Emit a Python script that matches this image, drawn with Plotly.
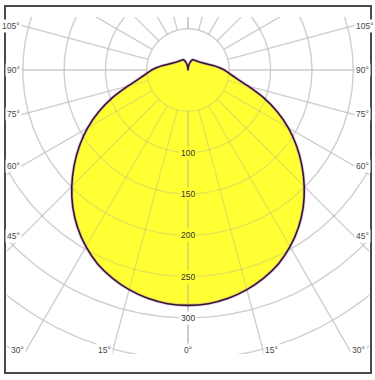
import numpy as np
import plotly.graph_objects as go

# ---- data (luminous intensity, cd/klm) ----
angles_deg = [0, 5, 10, 15, 20, 25, 30, 35, 40, 45, 50, 55, 60, 65, 70, 75, 80, 85,
              90, 95, 100, 105, 110, 115, 120, 125, 130, 135, 140, 145, 150, 155,
              160, 165, 170, 175, 180]
intensity = [285, 284, 280.7, 275.3, 268, 259, 247, 233, 217, 199, 180, 160.5, 140.5,
             119, 97, 75.5, 60, 50.5, 44, 37, 31, 26, 22.5, 20, 18.3, 17, 16,
             15.3, 14.8, 14.4, 14.2, 13.5, 12, 9.5, 6.5, 3, 0]

ring_radii = [50, 100, 150, 200, 250, 300, 350, 400, 450]
ring_labels = [100, 150, 200, 250, 300]
spoke_angles = [0, 15, 30, 45, 60, 75, 90, 105, 120, 135, 150, 165, 180]
angle_labels = [0, 15, 30, 45, 60, 75, 90, 105]

# ---- layout geometry (pixels) ----
W, H = 375, 380
SCALE = 0.826          # px per cd
CX, CY = 188, 70       # centre of diagram in px
PX0, PX1, PY0, PY1 = 7, 369, 17, 354   # plot area (px)

xr = [(PX0 - CX) / SCALE, (PX1 - CX) / SCALE]
yr = [(CY - PY1) / SCALE, (CY - PY0) / SCALE]

YELLOW = "#ffff33"
GRID_UNDER = "#e3e3e3"
GRID_OVER = "rgba(160,160,160,0.28)"

fig = go.Figure()

a = np.radians(angles_deg)
I = np.array(intensity, dtype=float)
left_x = -I * np.sin(a)
left_y = -I * np.cos(a)
cx_curve = np.concatenate([left_x[::-1], (I * np.sin(a))[1:]])
cy_curve = np.concatenate([left_y[::-1], left_y[1:]])

# grid geometry
t = np.linspace(0, 2 * np.pi, 361)
rx, ry = [], []
for r in ring_radii:
    rx += list(r * np.sin(t)) + [None]
    ry += list(r * np.cos(t)) + [None]
sx, sy = [], []
for ang in spoke_angles:
    th = np.radians(ang)
    for sgn in (-1, 1):
        sx += [sgn * 50 * np.sin(th), sgn * 900 * np.sin(th), None]
        sy += [-50 * np.cos(th), -900 * np.cos(th), None]

# grid under the fill
for gx, gy in ((rx, ry), (sx, sy)):
    fig.add_trace(go.Scatter(x=gx, y=gy, mode="lines",
                             line=dict(color=GRID_UNDER, width=1.4), hoverinfo="skip"))

SPL = dict(shape="spline", smoothing=0.7)

# filled area
fig.add_trace(go.Scatter(x=cx_curve, y=cy_curve, mode="lines", fill="toself",
                         fillcolor=YELLOW, line=dict(width=0, **SPL), hoverinfo="skip"))

# faint grid over the fill
for gx, gy in ((rx, ry), (sx, sy)):
    fig.add_trace(go.Scatter(x=gx, y=gy, mode="lines",
                             line=dict(color=GRID_OVER, width=1.4), hoverinfo="skip"))

# outline
fig.add_trace(go.Scatter(x=cx_curve, y=cy_curve, mode="lines",
                         line=dict(color="rgba(200,90,200,0.35)", width=3.2, **SPL),
                         hoverinfo="skip"))
fig.add_trace(go.Scatter(x=cx_curve, y=cy_curve, mode="lines",
                         line=dict(color="#2b1a35", width=1.6, **SPL), hoverinfo="skip"))

annotations = []
# radial labels
for r in ring_labels:
    annotations.append(dict(x=0, y=-r, xref="x", yref="y", text=str(r), showarrow=False,
                            font=dict(family="Liberation Sans", size=8.5, color="#333333"),
                            bgcolor=YELLOW if r < intensity[0] else "white",
                            borderpad=1))

# angle labels placed where spokes meet the label box
LX = 166 / SCALE           # side label column (distance from centre)
BY = -(350 - CY) / SCALE   # bottom label row
for ang in angle_labels:
    th = np.radians(ang)
    for sgn in (-1, 1):
        if ang == 0 and sgn == 1:
            continue
        s, c = np.sin(th), np.cos(th)
        d_b = BY / (-c) if c > 1e-9 else np.inf
        d_s = LX / s if s > 1e-9 else np.inf
        d = min(d_b, d_s)
        x = sgn * s * d
        y = -c * d
        anchor = "center" if ang == 0 else ("right" if sgn < 0 else "left")
        annotations.append(dict(x=x, y=y, xref="x", yref="y", text=f"{ang}°",
                                showarrow=False, xanchor=anchor,
                                font=dict(family="Liberation Sans", size=8.5, color="#4a4a4a"),
                                bgcolor="white", borderpad=1))

fig.update_layout(
    width=W, height=H,
    margin=dict(l=0, r=0, t=0, b=0),
    paper_bgcolor="white", plot_bgcolor="white",
    showlegend=False,
    xaxis=dict(range=xr, domain=[PX0 / W, PX1 / W], visible=False, fixedrange=True),
    yaxis=dict(range=yr, domain=[1 - PY1 / H, 1 - PY0 / H], visible=False, fixedrange=True),
    annotations=annotations,
    shapes=[dict(type="rect", xref="paper", yref="paper",
                 x0=5 / W, x1=371 / W, y0=1 - 373 / H, y1=1 - 6 / H,
                 line=dict(color="#4a4a4a", width=2))],
)

fig.write_html("out.html")
